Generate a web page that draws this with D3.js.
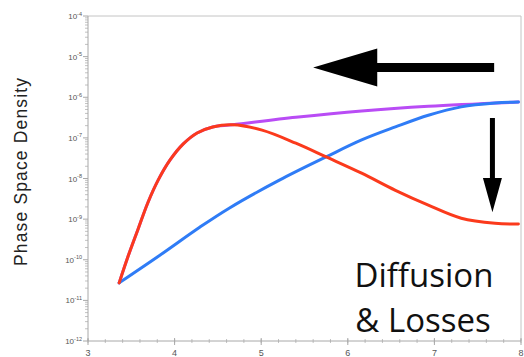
<!DOCTYPE html>
<html>
<head>
<meta charset="utf-8">
<script src="https://cdn.jsdelivr.net/npm/d3@7"></script>
<style>
  body { margin: 0; background: #fff; }
  svg { display: block; }
</style>
</head>
<body>
<svg width="524" height="357"></svg>
<script>
// curve values (x, phase space density)
var redX   = [3.36, 3.46, 3.58, 3.69, 3.81, 3.95, 4.10, 4.26, 4.44, 4.67, 5.01, 5.40, 5.75, 6.16, 6.55, 6.93, 7.31, 7.70, 7.97];
var redY   = [2.7e-11, 1.17e-10, 5.8e-10, 2.5e-9, 9.1e-9, 2.9e-8, 7.1e-8, 1.32e-7, 1.86e-7, 2.1e-7, 1.55e-7, 7.4e-8, 3.4e-8, 1.35e-8, 5.1e-9, 2.2e-9, 1.05e-9, 7.9e-10, 7.6e-10];
var purpleX = [3.36, 3.46, 3.58, 3.69, 3.81, 3.95, 4.10, 4.26, 4.44, 4.67, 5.40, 6.16, 6.93, 7.97];
var purpleY = [2.7e-11, 1.17e-10, 5.8e-10, 2.5e-9, 9.1e-9, 2.9e-8, 7.1e-8, 1.32e-7, 1.86e-7, 2.1e-7, 3.2e-7, 4.6e-7, 6.0e-7, 7.6e-7];
var blueX  = [3.36, 3.83, 4.29, 4.63, 5.21, 5.75, 6.16, 6.55, 6.93, 7.31, 7.70, 7.97];
var blueY  = [2.7e-11, 1.29e-10, 6.3e-10, 1.86e-9, 9.1e-9, 3.4e-8, 8.9e-8, 1.86e-7, 3.6e-7, 5.8e-7, 7.2e-7, 7.6e-7];

var xTicks = [3, 4, 5, 6, 7, 8];
var yExps  = [-12, -11, -10, -9, -8, -7, -6, -5, -4];

var svg = d3.select("svg");

var x = d3.scaleLinear().domain([3, 8]).range([88, 521]);
var y = d3.scaleLog().domain([1e-12, 1e-4]).range([341, 16]);

var frame = "#a8a8a8";

// frame lines
svg.append("line").attr("x1", x(3)).attr("x2", x(8)).attr("y1", y(1e-4)).attr("y2", y(1e-4))
    .attr("stroke", "#c4c4c4").attr("stroke-width", 1);
svg.append("line").attr("x1", x(8)).attr("x2", x(8)).attr("y1", y(1e-4)).attr("y2", y(1e-12))
    .attr("stroke", "#c4c4c4").attr("stroke-width", 1);

// left axis with log minor ticks
var yAxis = svg.append("g");
yAxis.append("line").attr("x1", x(3)).attr("x2", x(3)).attr("y1", y(1e-4)).attr("y2", y(1e-12))
    .attr("stroke", frame);
var minor = [];
yExps.forEach(function (e) {
    if (e < -4) for (var m = 2; m < 10; m++) minor.push(m * Math.pow(10, e));
});
yAxis.selectAll(".ymin").data(minor).enter().append("line")
    .attr("x1", x(3) - 3).attr("x2", x(3))
    .attr("y1", function (d) { return y(d); }).attr("y2", function (d) { return y(d); })
    .attr("stroke", frame).attr("stroke-width", 0.7);
yAxis.selectAll(".ymaj").data(yExps).enter().append("line")
    .attr("x1", x(3) - 5).attr("x2", x(3))
    .attr("y1", function (d) { return y(Math.pow(10, d)); }).attr("y2", function (d) { return y(Math.pow(10, d)); })
    .attr("stroke", frame);
var ylab = yAxis.selectAll(".ylab").data(yExps).enter().append("text")
    .attr("x", 82)
    .attr("y", function (d) { return y(Math.pow(10, d)) + 3; })
    .attr("text-anchor", "end")
    .attr("font-family", "Liberation Sans, Arial, sans-serif")
    .attr("fill", "#555");
ylab.append("tspan").attr("font-size", 8).text("10");
ylab.append("tspan").attr("font-size", 5.5).attr("dy", -3.5).text(function (d) { return d; });

// bottom axis
var xAxis = svg.append("g");
xAxis.append("line").attr("x1", x(3)).attr("x2", x(8)).attr("y1", y(1e-12)).attr("y2", y(1e-12))
    .attr("stroke", frame);
var xMinor = d3.range(3, 8.001, 0.2);
xAxis.selectAll(".xmin").data(xMinor).enter().append("line")
    .attr("x1", function (d) { return x(d); }).attr("x2", function (d) { return x(d); })
    .attr("y1", y(1e-12) - 2).attr("y2", y(1e-12) + 2)
    .attr("stroke", frame).attr("stroke-width", 0.7);
xAxis.selectAll(".xmaj").data(xTicks).enter().append("line")
    .attr("x1", function (d) { return x(d); }).attr("x2", function (d) { return x(d); })
    .attr("y1", y(1e-12) - 3).attr("y2", y(1e-12) + 4)
    .attr("stroke", frame);
xAxis.selectAll(".xlab").data(xTicks).enter().append("text")
    .attr("x", function (d) { return x(d); })
    .attr("y", 356)
    .attr("text-anchor", "middle")
    .attr("font-family", "Liberation Sans, Arial, sans-serif")
    .attr("font-size", 9)
    .attr("fill", "#555")
    .text(function (d) { return d; });

// axis title
svg.append("text")
    .attr("transform", "translate(27,172) rotate(-90)")
    .attr("text-anchor", "middle")
    .attr("font-family", "Liberation Sans, Arial, sans-serif")
    .attr("font-size", 17.5)
    .attr("textLength", 188)
    .attr("lengthAdjust", "spacing")
    .attr("fill", "#222")
    .text("Phase Space Density");

// curves
var line = d3.line()
    .x(function (d) { return x(d[0]); })
    .y(function (d) { return y(d[1]); })
    .curve(d3.curveCatmullRom.alpha(0.5));

function drawCurve(xs, ys, color) {
    svg.append("path")
        .datum(d3.zip(xs, ys))
        .attr("d", line)
        .attr("fill", "none")
        .attr("stroke", color)
        .attr("stroke-width", 3)
        .attr("stroke-linecap", "round")
        .attr("stroke-linejoin", "round");
}
drawCurve(purpleX, purpleY, "#b94cf5");
drawCurve(blueX, blueY, "#2f7cf6");
drawCurve(redX, redY, "#fb3a1c");

// arrows (placed in data units)
var la = { tail: 7.69, tip: 5.60, head: 6.34, v: Math.pow(10, -5.27) };
var ly = y(la.v);
svg.append("path")
    .attr("d", "M" + x(la.tip) + "," + ly +
        "L" + x(la.head) + "," + (ly - 19) +
        "L" + x(la.head) + "," + (ly - 4.5) +
        "L" + x(la.tail) + "," + (ly - 4.5) +
        "L" + x(la.tail) + "," + (ly + 4.5) +
        "L" + x(la.head) + "," + (ly + 4.5) +
        "L" + x(la.head) + "," + (ly + 19) + "Z")
    .attr("fill", "#000");

var da = { at: 7.67, top: Math.pow(10, -6.51), head: Math.pow(10, -7.99), tip: Math.pow(10, -8.83) };
var dx = x(da.at);
svg.append("path")
    .attr("d", "M" + dx + "," + y(da.tip) +
        "L" + (dx - 9.5) + "," + y(da.head) +
        "L" + (dx - 2.5) + "," + y(da.head) +
        "L" + (dx - 2.5) + "," + y(da.top) +
        "L" + (dx + 2.5) + "," + y(da.top) +
        "L" + (dx + 2.5) + "," + y(da.head) +
        "L" + (dx + 9.5) + "," + y(da.head) + "Z")
    .attr("fill", "#000");

// annotation
var note = svg.append("text")
    .attr("font-family", "Open Sans, sans-serif")
    .attr("font-size", 33)
    .attr("fill", "#111")
    .attr("text-anchor", "middle");
note.append("tspan").attr("x", 424).attr("y", 287).text("Diffusion");
note.append("tspan").attr("x", 423).attr("y", 332).text("& Losses");
</script>
</body>
</html>
